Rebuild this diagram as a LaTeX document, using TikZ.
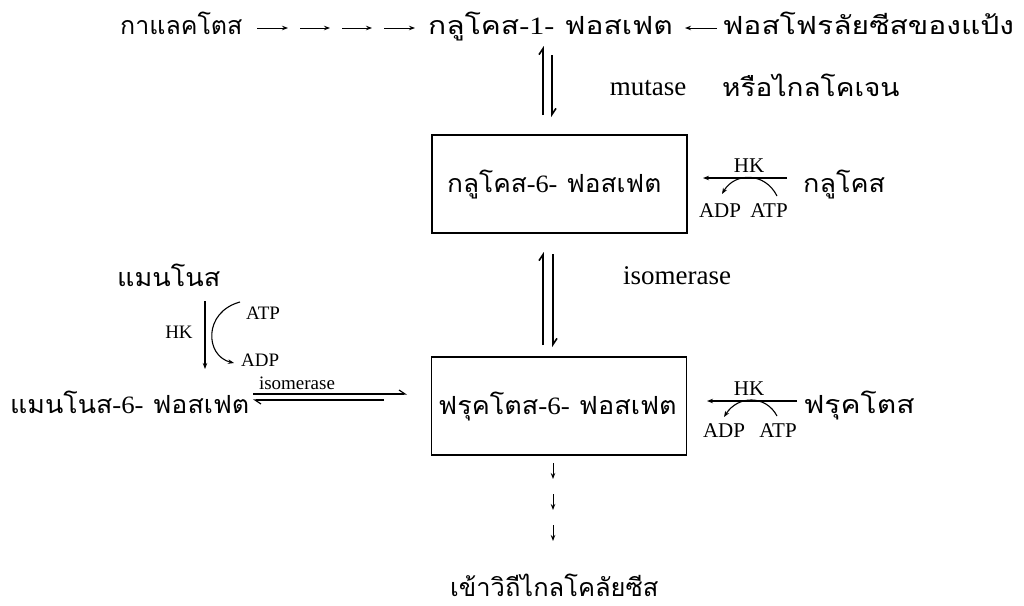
\documentclass[tikz,border=0pt]{standalone}
\usepackage{fontspec}
\setmainfont{Liberation Serif}
\newfontfamily\thai[Script=Thai]{Loma}
\newcommand{\dg}[1]{{\rmfamily #1}}
\usetikzlibrary{arrows.meta,calc}
\begin{document}
\begin{tikzpicture}[x=1pt,y=-1pt,
  thaitext/.style={font=\thai\fontsize{25}{28}\selectfont, inner sep=0pt, anchor=base west},
  enz/.style={font=\fontsize{27}{30}\selectfont, inner sep=0pt},
  cof/.style={font=\fontsize{21}{24}\selectfont, inner sep=0pt},
  cofs/.style={font=\fontsize{19}{22}\selectfont, inner sep=0pt},
  box/.style={draw, line width=1.4pt, minimum width=255pt, minimum height=98pt, inner sep=0pt},
  arr/.style={line width=1pt, -{Stealth[length=6pt,width=4.5pt]}},
  harp/.style={line width=1.6pt, -{Straight Barb[harpoon,length=6pt,width=8pt]}},
  thin/.style={line width=1.1pt, -{Stealth[length=6pt,width=4.5pt]}},
]
\useasboundingbox (0,0) rectangle (1024,605);

% sugars along the top row
\node[thaitext] (gal) at (120,34) {กาแลคโตส};
\node[thaitext, xscale=1.2] (g1p) at (428,34) {กลูโคส\dg{-1-} ฟอสเฟต};
\node[thaitext, xscale=1.2] (phos) at (722,34) {ฟอสโฟรลัยซีสของแป้ง};
\node[thaitext, xscale=1.12] (glyc) at (722,96) {หรือไกลโคเจน};
\node[enz] (mut) at (648,88) {mutase};

% galactose -> glucose-1-phosphate in several steps
\coordinate (s1) at (257,28); \coordinate (e1) at (288,28);
\coordinate (s2) at (300,28); \coordinate (e2) at (330,28);
\coordinate (s3) at (342,28); \coordinate (e3) at (372,28);
\coordinate (s4) at (384,28); \coordinate (e4) at (415,28);
\foreach \i in {1,...,4} \draw[arr] (s\i) -- (e\i);

% phosphorolysis arrow
\coordinate (p1) at (717,28); \coordinate (p2) at (685,28);
\draw[arr] (p1) -- (p2);

% boxed hexose phosphates
\node[box] (g6p) at (559.5,184) {};
\node[thaitext, xscale=1.05] (g6pt) at (447,192) {กลูโคส\dg{-6-} ฟอสเฟต};
\node[box] (f6p) at (559,406) {};
\node[thaitext, xscale=1.08] (f6pt) at (438,414) {ฟรุคโตส\dg{-6-} ฟอสเฟต};

% mutase equilibrium
\coordinate (m1a) at (543,115); \coordinate (m1b) at (543,46);
\coordinate (m2a) at (552,55); \coordinate (m2b) at (552,117);
\draw[harp] (m1a) -- (m1b);
\draw[harp] (m2a) -- (m2b);

% isomerase equilibrium
\node[enz] (iso) at (677,276) {isomerase};
\coordinate (i1a) at (543,345); \coordinate (i1b) at (543,252);
\coordinate (i2a) at (553,254); \coordinate (i2b) at (553,347);
\draw[harp] (i1a) -- (i1b);
\draw[harp] (i2a) -- (i2b);

% glucose + hexokinase
\node[thaitext, xscale=1.08] (glc) at (803,192) {กลูโคส};
\node[cof] (hk1) at (749,166) {HK};
\node[cof] (adp1) at (720,211) {ADP};
\node[cof] (atp1) at (769,211) {ATP};
\coordinate (h1s) at (787,178); \coordinate (h1e) at (703,178);
\draw[thin] (h1s) -- (h1e);
\draw[thin] (777,196) .. controls (765,172) and (735,172) .. (722,194);

% fructose + hexokinase
\node[thaitext, xscale=1.2] (fru) at (803,413) {ฟรุคโตส};
\node[cof] (hk2) at (749,389) {HK};
\node[cof] (adp2) at (724,431) {ADP};
\node[cof] (atp2) at (778,431) {ATP};
\coordinate (h2s) at (797,401); \coordinate (h2e) at (707,401);
\draw[thin] (h2s) -- (h2e);
\draw[thin] (777,416) .. controls (766,395) and (738,395) .. (724,417);

% mannose branch
\node[thaitext, xscale=1.08] (man) at (117,286) {แมนโนส};
\node[thaitext, xscale=1.07] (m6p) at (10,413) {แมนโนส\dg{-6-} ฟอสเฟต};
\node[cofs] (hk3) at (179,332) {HK};
\node[cofs, anchor=west] (atp3) at (246,313) {ATP};
\node[cofs, anchor=west] (adp3) at (241,360) {ADP};
\coordinate (v1) at (205,301); \coordinate (v2) at (205,369);
\draw[thin] (v1) -- (v2);
\draw[thin] (240,302) .. controls (203,312) and (205,356) .. (234,363);

% mannose-6-phosphate <-> fructose-6-phosphate
\node[cofs] (iso2) at (297,383) {isomerase};
\coordinate (j1a) at (253,394); \coordinate (j1b) at (407,394);
\coordinate (j2a) at (384,400); \coordinate (j2b) at (253,400);
\draw[harp, line width=1.2pt] (j1a) -- (j1b);
\draw[harp, line width=1.2pt] (j2a) -- (j2b);

% onward to glycolysis
\coordinate (d1a) at (553,463); \coordinate (d1b) at (553,479);
\coordinate (d2a) at (553,494); \coordinate (d2b) at (553,510);
\coordinate (d3a) at (553,525); \coordinate (d3b) at (553,541);
\foreach \i in {1,2,3} \draw[thin, line width=0.9pt] (d\i a) -- (d\i b);
\node[thaitext, xscale=1.02] (gly) at (450,596) {เข้าวิถีไกลโคลัยซีส};
\end{tikzpicture}
\end{document}
